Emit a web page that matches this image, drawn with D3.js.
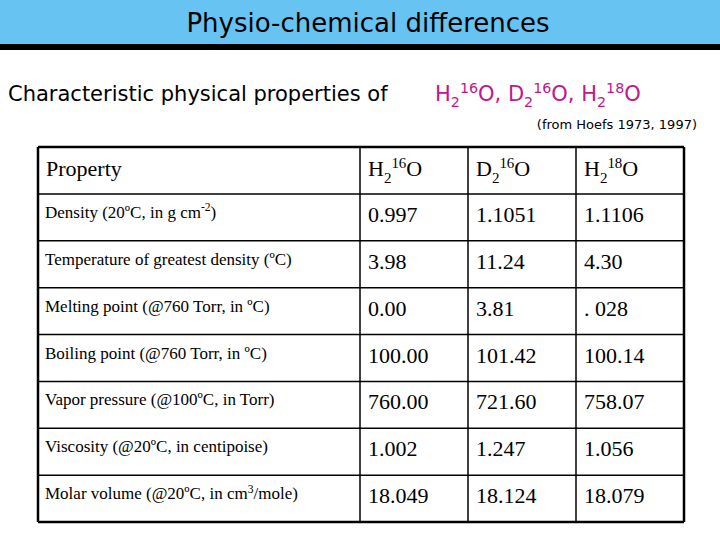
<!DOCTYPE html><html><head><meta charset="utf-8">
<script src="https://cdn.jsdelivr.net/npm/d3@7/dist/d3.min.js"></script>
<style>body{margin:0;background:#fff}</style></head><body>
<script>
const headers=["Property","H_{2}^{16}O","D_{2}^{16}O","H_{2}^{18}O"];
const properties=["Density (20ºC, in g cm^{-2})","Temperature of greatest density (ºC)","Melting point (@760 Torr, in ºC)","Boiling point (@760 Torr, in ºC)","Vapor pressure (@100ºC, in Torr)","Viscosity (@20ºC, in centipoise)","Molar volume (@20ºC, in cm^{3}/mole)"];
const h216o=["0.997","3.98","0.00","100.00","760.00","1.002","18.049"];
const d216o=["1.1051","11.24","3.81","101.42","721.60","1.247","18.124"];
const h218o=["1.1106","4.30",". 028","100.14","758.07","1.056","18.079"];
const rows=properties.map((p,i)=>[p,h216o[i],d216o[i],h218o[i]]);

const svg=d3.select("body").append("svg").attr("width",720).attr("height",540);
svg.append("rect").attr("x",0).attr("y",0).attr("width",720).attr("height",45).attr("fill","#66c3f2");
svg.append("rect").attr("x",0).attr("y",44).attr("width",720).attr("height",6).attr("fill","#000");
const hand="'DejaVu Sans', sans-serif";
const serif="'Liberation Serif', 'Times New Roman', serif";
svg.append("text").attr("x",368).attr("y",32).attr("text-anchor","middle").attr("font-family",hand).attr("font-size",26).text("Physio-chemical differences");

function rich(sel,str,size){
  const parts=str.split(/(_\{[^}]*\}|\^\{[^}]*\})/).filter(s=>s.length);
  let shift=0;
  parts.forEach(p=>{
    let t=p,target=0,fs=size;
    if(p.startsWith("_{")){t=p.slice(2,-1);target=size*0.3;fs=size*0.68;}
    else if(p.startsWith("^{")){t=p.slice(2,-1);target=-size*0.38;fs=size*0.68;}
    sel.append("tspan").attr("dy",target-shift).attr("font-size",fs).text(t);
    shift=target;
  });
}

const st=svg.append("text").attr("x",8).attr("y",101).attr("font-family",hand).attr("font-size",21);
st.append("tspan").text("Characteristic physical properties of ");
const mg=svg.append("text").attr("x",435).attr("y",101).attr("font-family",hand).attr("font-size",21).attr("fill","#c0168e");
rich(mg,"H_{2}^{16}O, D_{2}^{16}O, H_{2}^{18}O",21);
svg.append("text").attr("x",697).attr("y",129).attr("text-anchor","end").attr("font-family",hand).attr("font-size",13).text("(from Hoefs 1973, 1997)");

const x=d3.scaleOrdinal().domain([0,1,2,3,4]).range([38,360,468,576,684]);
const y=d3.scaleLinear().domain([0,8]).range([147,522]);
const g=svg.append("g");
d3.range(9).forEach(i=>g.append("line").attr("x1",38).attr("x2",684).attr("y1",y(i)).attr("y2",y(i)).attr("stroke","#000").attr("stroke-width",i==0||i==8?2.5:1.5));
d3.range(5).forEach(j=>g.append("line").attr("x1",x(j)).attr("x2",x(j)).attr("y1",y(0)).attr("y2",y(8)).attr("stroke","#000").attr("stroke-width",j==0||j==4?2.5:1.5));

headers.forEach((h,j)=>{
  const t=g.append("text").attr("x",x(j)+8).attr("y",y(0)+29).attr("font-family",serif).attr("font-size",22);
  rich(t,h,22);
});
rows.forEach((r,i)=>{
  r.forEach((v,j)=>{
    const fs=j==0?17:22;
    const t=g.append("text").attr("x",x(j)+(j==0?7:8)).attr("y",y(i+1)+(j==0?24:28)).attr("font-family",serif).attr("font-size",fs);
    rich(t,v,fs);
  });
});
</script></body></html>
